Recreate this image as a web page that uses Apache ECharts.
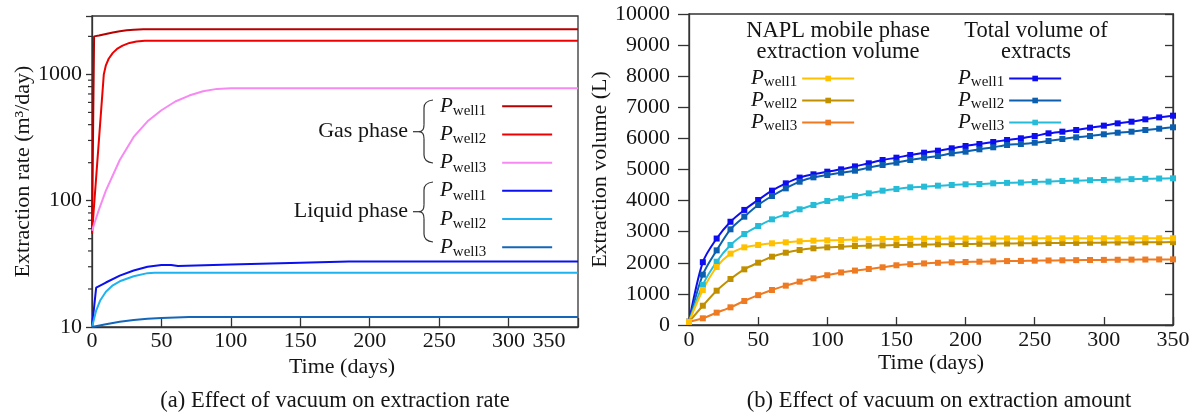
<!DOCTYPE html>
<html><head><meta charset="utf-8">
<script src="https://cdn.jsdelivr.net/npm/echarts@6/dist/echarts.min.js"></script>
<style>html,body{margin:0;padding:0;background:#fff}#c{width:1202px;height:418px}</style>
</head><body><div id="c"></div>
<script>
// ---------- (a) extraction rate, [day, m3/day] ----------
const gasWell1 = [[0,55],[1.5,2000],[5,2030],[10,2090],[15,2150],[20,2200],[25,2235],[30,2260],[37,2280],[350,2280]];
const gasWell2 = [[0,55],[8.5,1000],[10,1180],[12,1330],[15,1480],[18,1590],[22,1690],[27,1775],[32,1825],[38,1850],[350,1850]];
const gasWell3 = [[0,58],[5,85],[10,120],[20,210],[30,320],[40,425],[50,520],[60,610],[70,680],[80,735],[90,768],[100,778],[350,778]];
const liqWell1 = [[0,10],[3,20.5],[10,22.5],[20,25.5],[30,28],[40,30],[50,31],[57,31],[62,30.4],[100,31.2],[150,32.3],[185,33],[350,33]];
const liqWell2 = [[0,10],[3,13.5],[6,16.3],[10,19],[15,21.4],[20,23],[30,25.2],[40,26.7],[45,26.9],[350,26.9]];
const liqWell3 = [[0,10],[10,10.5],[20,11],[30,11.35],[40,11.6],[50,11.8],[70,12],[350,12]];
const rateMinorTicks = [20,30,40,50,60,70,80,90,200,300,400,500,600,700,800,900,2000];

// ---------- (b) extraction volume, days 0..350 step 10 ----------
const days = [0,10,20,30,40,50,60,70,80,90,100,110,120,130,140,150,160,170,180,190,200,210,220,230,240,250,260,270,280,290,300,310,320,330,340,350];
const naplWell1 = [100,1125,1865,2295,2497,2572,2626,2658,2690,2711,2722,2733,2750,2758,2764,2768,2772,2775,2777,2779,2780,2781,2782,2783,2784,2785,2786,2787,2787,2788,2788,2789,2789,2790,2790,2790];
const naplWell2 = [100,620,1103,1479,1790,2003,2196,2325,2412,2466,2497,2518,2540,2550,2560,2570,2580,2588,2595,2600,2605,2610,2615,2620,2625,2630,2635,2638,2640,2644,2648,2652,2655,2658,2661,2665];
const naplWell3 = [100,215,397,569,772,960,1125,1265,1393,1501,1600,1690,1750,1800,1855,1920,1955,1980,2000,2015,2026,2035,2045,2055,2060,2068,2075,2080,2085,2090,2094,2098,2102,2105,2108,2110];
const totalWell1 = [100,2020,2780,3320,3700,4020,4320,4555,4740,4845,4930,5005,5100,5200,5305,5380,5466,5540,5605,5681,5756,5820,5884,5949,6003,6077,6163,6216,6270,6345,6410,6484,6537,6613,6677,6730];
const totalWell2 = [100,1620,2400,3077,3483,3858,4148,4394,4608,4748,4823,4898,4962,5060,5145,5219,5305,5380,5434,5520,5573,5649,5714,5788,5820,5862,5916,5981,6035,6077,6132,6183,6216,6270,6312,6357];
const totalWell3 = [100,1290,2035,2572,2926,3183,3398,3559,3720,3858,3987,4073,4150,4234,4319,4373,4427,4448,4480,4502,4523,4534,4555,4570,4580,4600,4610,4630,4641,4655,4662,4673,4690,4700,4710,4716];

const wellSubs = ['well1','well2','well3'];
const FONT = '"Liberation Serif","Times New Roman",serif';
const TXT = '#151515';
const AX = '#333333';

const chart = echarts.init(document.getElementById('c'), null, {renderer:'canvas'});

function pairs(xs, ys){ return xs.map((x,i)=>[x, ys[i]]); }
function subOf(name){ return wellSubs[parseInt(name.slice(-1),10)-1]; }

const rateNames = ['Gas phase P1','Gas phase P2','Gas phase P3','Liquid phase P1','Liquid phase P2','Liquid phase P3'];
const rateData = [gasWell1, gasWell2, gasWell3, liqWell1, liqWell2, liqWell3];
const rateColors = ['#b80000','#ee0000','#f78af2','#0a10ee','#1fb2f0','#1466b8'];

const volNames = ['Total P1','Total P2','Total P3','NAPL P3','NAPL P2','NAPL P1'];
const volData = [totalWell1, totalWell2, totalWell3, naplWell3, naplWell2, naplWell1];
const volColors = ['#0d0df0','#0c5fae','#26bcd8','#ee7a22','#c09000','#ffc000'];

const series = [];
rateData.forEach((d,i)=>{
  series.push({name: rateNames[i], type:'line', xAxisIndex:0, yAxisIndex:0, data:d, symbol:'none',
    lineStyle:{color:rateColors[i], width:2}, itemStyle:{color:rateColors[i]}, z:3});
});
series.push({name:'minor', type:'custom', xAxisIndex:0, yAxisIndex:0, silent:true, clip:false, z:5,
  data: rateMinorTicks.map(v=>[0,v]),
  renderItem:(params, api)=>{
    const p = api.coord([api.value(0), api.value(1)]);
    return {type:'line', shape:{x1:p[0]-4, y1:p[1], x2:p[0], y2:p[1]}, style:{stroke:AX, lineWidth:1.2}};
  }});
volData.forEach((d,i)=>{
  series.push({name: volNames[i], type:'line', xAxisIndex:1, yAxisIndex:1, data:pairs(days,d),
    symbol:'rect', symbolSize:6, smooth:0.3,
    lineStyle:{color:volColors[i], width:2}, itemStyle:{color:volColors[i]}, z:3});
});

const tickLabel = {fontFamily:FONT, fontSize:22, color:TXT};
const nameStyle = {fontFamily:FONT, fontSize:22, color:TXT};

function legendRich(lh, pad){
  return {
    p:{fontFamily:FONT, fontStyle:'italic', fontSize:21, color:TXT, lineHeight:lh},
    s:{fontFamily:FONT, fontSize:15, color:TXT, padding:pad}
  };
}

// curly brace annotation built from line / quadratic curve pieces
function brace(xTip, xBar, xEnd, top, mid, bottom){
  const st = {stroke:AX, lineWidth:1.2, fill:null};
  return [
    {type:'bezierCurve', shape:{x1:xEnd, y1:top, cpx1:xBar, cpy1:top+1, x2:xBar, y2:top+8}, style:st},
    {type:'line', shape:{x1:xBar, y1:top+8, x2:xBar, y2:mid-7}, style:st},
    {type:'bezierCurve', shape:{x1:xBar, y1:mid-7, cpx1:xBar, cpy1:mid, x2:xBar-5, y2:mid}, style:st},
    {type:'line', shape:{x1:xBar-5, y1:mid, x2:xTip, y2:mid}, style:st},
    {type:'bezierCurve', shape:{x1:xBar-5, y1:mid, cpx1:xBar, cpy1:mid, x2:xBar, y2:mid+7}, style:st},
    {type:'line', shape:{x1:xBar, y1:mid+7, x2:xBar, y2:bottom-8}, style:st},
    {type:'bezierCurve', shape:{x1:xBar, y1:bottom-8, cpx1:xBar, cpy1:bottom-1, x2:xEnd, y2:bottom}, style:st}
  ];
}

const option = {
  animation:false,
  backgroundColor:'#ffffff',
  grid:[
    {left:92, right:624, top:16, bottom:91, show:true, borderColor:AX, borderWidth:1.3, backgroundColor:'transparent', containLabel:false, outerBoundsMode:'none'},
    {left:689, right:29, top:14, bottom:93, show:true, borderColor:AX, borderWidth:1.3, backgroundColor:'transparent', containLabel:false, outerBoundsMode:'none'}
  ],
  xAxis:[
    {gridIndex:0, type:'value', min:0, max:350, interval:50,
     axisLine:{lineStyle:{color:AX, width:1.3}}, axisTick:{inside:true, length:9, lineStyle:{color:AX, width:1.3}},
     splitLine:{show:false},
     axisLabel:{...tickLabel, margin:3, showMaxLabel:true,
       formatter:v=> v===350 ? '{r|350}' : String(v),
       rich:{r:{fontFamily:FONT, fontSize:22, color:TXT, padding:[0,58,0,0]}}},
     name:'Time (days)', nameLocation:'middle', nameGap:29, nameMoveOverlap:false, nameTextStyle:{...nameStyle, padding:[0,0,0,14]}},
    {gridIndex:1, type:'value', min:0, max:350, interval:50,
     axisLine:{lineStyle:{color:AX, width:1.3}}, axisTick:{inside:true, length:8, lineStyle:{color:AX, width:1.3}},
     splitLine:{show:false},
     axisLabel:{...tickLabel, margin:4, formatter:v=>String(v)},
     name:'Time (days)', nameLocation:'middle', nameGap:27, nameMoveOverlap:false, nameTextStyle:nameStyle}
  ],
  yAxis:[
    {gridIndex:0, type:'log', logBase:10, min:10, max:2900,
     axisLine:{show:true, lineStyle:{color:AX, width:1.3}}, axisTick:{show:true, inside:false, length:6, lineStyle:{color:AX, width:1.3}},
     splitLine:{show:false}, minorTick:{show:false},
     axisLabel:{...tickLabel, margin:10, formatter:v=>{const l=Math.log10(v); return Math.abs(l-Math.round(l))<1e-6 ? String(Math.round(v)) : '';}},
     name:'Extraction rate (m³/day)', nameLocation:'middle', nameGap:58, nameTextStyle:nameStyle},
    {gridIndex:1, type:'value', min:0, max:10000, interval:1000,
     axisLine:{show:true, lineStyle:{color:AX, width:1.3}}, axisTick:{show:true, inside:false, length:11, lineStyle:{color:AX, width:1.3}},
     splitLine:{show:false},
     axisLabel:{...tickLabel, margin:19, formatter:v=>String(v)},
     name:'Extraction volume (L)', nameLocation:'middle', nameGap:66, nameTextStyle:nameStyle},
    {gridIndex:1, type:'value', position:'right', min:0, max:10000, interval:1000,
     axisLine:{show:true, lineStyle:{color:AX, width:1.3}}, axisTick:{show:true, inside:true, length:8, lineStyle:{color:AX, width:1.3}},
     splitLine:{show:false}, axisLabel:{show:false}}
  ],
  legend:[
    {orient:'vertical', left:435, top:90.75, itemGap:5.2, align:'right', icon:'rect', itemWidth:50, itemHeight:2,
     selectedMode:false, data:rateNames, formatter:n=>'{p|P}{s|'+subOf(n)+'}',
     textStyle:{color:TXT, rich:legendRich(28.5,[10,11,0,0])}},
    {orient:'vertical', left:746, top:63, itemGap:0, align:'right', itemWidth:52, itemHeight:7,
     selectedMode:false, data:['NAPL P1','NAPL P2','NAPL P3'], formatter:n=>'{p|P}{s|'+subOf(n)+'}',
     textStyle:{color:TXT, rich:legendRich(22,[8,0,0,0])}},
    {orient:'vertical', left:953, top:63, itemGap:0, align:'right', itemWidth:52, itemHeight:7,
     selectedMode:false, data:['Total P1','Total P2','Total P3'], formatter:n=>'{p|P}{s|'+subOf(n)+'}',
     textStyle:{color:TXT, rich:legendRich(22,[8,0,0,0])}}
  ],
  graphic:[
    {type:'text', style:{text:'Gas phase', x:408, y:131.7, align:'right', verticalAlign:'middle', font:'22px '+FONT, fill:TXT}},
    {type:'text', style:{text:'Liquid phase', x:408, y:211.7, align:'right', verticalAlign:'middle', font:'22px '+FONT, fill:TXT}},
    ...brace(413, 424, 433, 100, 131.7, 163),
    ...brace(413, 424, 433, 182, 211.7, 242),
    {type:'text', style:{text:'NAPL mobile phase\nextraction volume', x:838, y:41.5, align:'center', verticalAlign:'middle', font:'22.5px '+FONT, lineHeight:21, fill:TXT}},
    {type:'text', style:{text:'Total volume of\nextracts', x:1036, y:41.5, align:'center', verticalAlign:'middle', font:'22.5px '+FONT, lineHeight:21, fill:TXT}},
    {type:'text', style:{text:'(a) Effect of vacuum on extraction rate', x:335, y:401.5, align:'center', verticalAlign:'middle', font:'22.5px '+FONT, fill:TXT}},
    {type:'text', style:{text:'(b) Effect of vacuum on extraction amount', x:939, y:401.5, align:'center', verticalAlign:'middle', font:'22.5px '+FONT, fill:TXT}}
  ],
  series
};
chart.setOption(option);
</script>
</body></html>
